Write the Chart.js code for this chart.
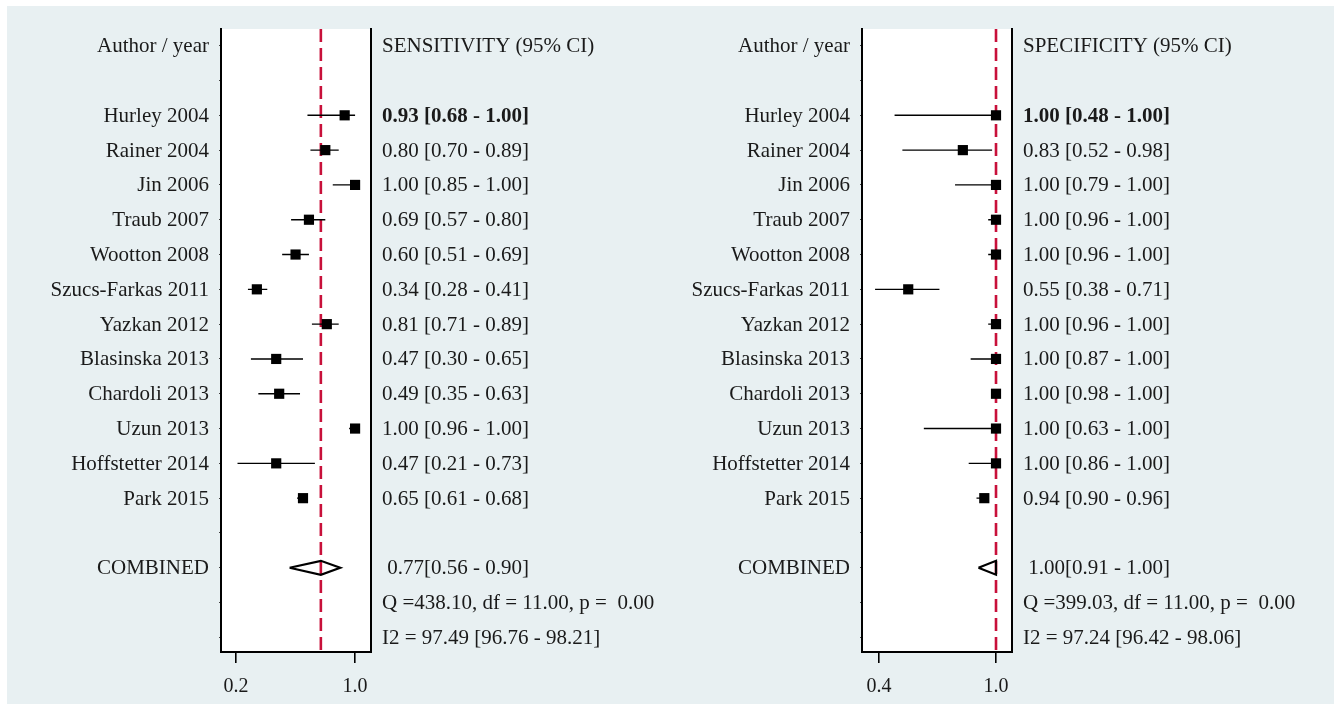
<!DOCTYPE html>
<html>
<head>
<meta charset="utf-8">
<script src="https://cdn.jsdelivr.net/npm/chart.js@4.4.1/dist/chart.umd.min.js"></script>
<style>
  html, body { margin: 0; padding: 0; background: #ffffff; }
  body { width: 1339px; height: 704px; position: relative; overflow: hidden; }
  #panel { position: absolute; left: 7px; top: 6px; width: 1327px; height: 698px; background: #e8f0f2; }
  canvas { position: absolute; top: 0; }
  #c1 { left: 0; }
  #c2 { left: 650px; }
</style>
</head>
<body>
<div id="panel"></div>
<canvas id="c1" width="690" height="704"></canvas>
<canvas id="c2" width="689" height="704"></canvas>
<script>
// Studies, top to bottom
const studies = ["Hurley 2004", "Rainer 2004", "Jin 2006", "Traub 2007", "Wootton 2008",
  "Szucs-Farkas 2011", "Yazkan 2012", "Blasinska 2013", "Chardoli 2013", "Uzun 2013",
  "Hoffstetter 2014", "Park 2015"];

// Sensitivity per study: estimate, lower and upper 95% CI
const sensEst = [0.93, 0.80, 1.00, 0.69, 0.60, 0.34, 0.81, 0.47, 0.49, 1.00, 0.47, 0.65];
const sensLo  = [0.68, 0.70, 0.85, 0.57, 0.51, 0.28, 0.71, 0.30, 0.35, 0.96, 0.21, 0.61];
const sensHi  = [1.00, 0.89, 1.00, 0.80, 0.69, 0.41, 0.89, 0.65, 0.63, 1.00, 0.73, 0.68];
const sensPooled = [0.77, 0.56, 0.90];
const sensStats = ["Q =438.10, df = 11.00, p =  0.00", "I2 = 97.49 [96.76 - 98.21]"];

// Specificity per study: estimate, lower and upper 95% CI
const specEst = [1.00, 0.83, 1.00, 1.00, 1.00, 0.55, 1.00, 1.00, 1.00, 1.00, 1.00, 0.94];
const specLo  = [0.48, 0.52, 0.79, 0.96, 0.96, 0.38, 0.96, 0.87, 0.98, 0.63, 0.86, 0.90];
const specHi  = [1.00, 0.98, 1.00, 1.00, 1.00, 0.71, 1.00, 1.00, 1.00, 1.00, 1.00, 0.96];
const specPooled = [1.00, 0.91, 1.00];
const specStats = ["Q =399.03, df = 11.00, p =  0.00", "I2 = 97.24 [96.42 - 98.06]"];

// Axis tick values
const sensTicks = [0.2, 1.0];
const specTicks = [0.4, 1.0];

const FONT = "'Liberation Serif', 'Times New Roman', serif";
const FONT_SIZE = 21;
const TEXT = "#1a1a1a";
const FIRST_ROW = 2;          // rows 0 = header, 1 = blank
const POOLED_ROW = FIRST_ROW + studies.length + 1;
const Y_MIN = -0.48, Y_PAD = 0.42;

function rowLabels(header, cells, pooled, stats) {
  const labels = [header, ""];
  cells.forEach(c => labels.push(c));
  labels.push("");
  labels.push(pooled);
  stats.forEach(s => labels.push(s));
  return labels;
}
const fmt = v => v.toFixed(2);

function buildChart(id, opt) {
  const leftLabels = rowLabels("Author / year", studies, "COMBINED", ["", ""]);
  const rightLabels = rowLabels(opt.header,
    opt.est.map((e, i) => fmt(e) + " [" + fmt(opt.lo[i]) + " - " + fmt(opt.hi[i]) + "]"),
    " " + fmt(opt.pooled[0]) + "[" + fmt(opt.pooled[1]) + " - " + fmt(opt.pooled[2]) + "]",
    opt.stats);
  const nRows = leftLabels.length;

  const points = opt.est.map((e, i) => ({ x: e, y: FIRST_ROW + i }));
  const ciSegments = [];
  opt.lo.forEach((lo, i) => {
    ciSegments.push({ x: lo, y: FIRST_ROW + i });
    ciSegments.push({ x: opt.hi[i], y: FIRST_ROW + i });
    ciSegments.push({ x: NaN, y: NaN });
  });
  const h = 0.2;
  const [pe, pl, ph] = opt.pooled;
  const diamond = [
    { x: pl, y: POOLED_ROW }, { x: pe, y: POOLED_ROW - h },
    { x: ph, y: POOLED_ROW }, { x: pe, y: POOLED_ROW + h }, { x: pl, y: POOLED_ROW }
  ];

  const refLine = {
    id: 'refLine',
    beforeDatasetsDraw(chart) {
      const { ctx, chartArea: a, scales: { x } } = chart;
      const px = x.getPixelForValue(pe);
      ctx.save();
      ctx.strokeStyle = '#c8103a';
      ctx.lineWidth = 2.6;
      ctx.setLineDash([13, 6]);
      ctx.beginPath();
      ctx.moveTo(px, a.top);
      ctx.lineTo(px, a.bottom);
      ctx.stroke();
      ctx.restore();
    }
  };
  const plotFill = {
    id: 'plotFill',
    beforeDraw(chart) {
      const { ctx, chartArea: a } = chart;
      ctx.save();
      ctx.fillStyle = '#ffffff';
      ctx.fillRect(a.left, a.top, a.right - a.left, a.bottom - a.top);
      ctx.restore();
    }
  };

  new Chart(document.getElementById(id), {
    type: 'scatter',
    data: {
      datasets: [
        { type: 'line', data: ciSegments, borderColor: '#000', borderWidth: 1.4,
          pointRadius: 0, spanGaps: false, order: 3 },
        { type: 'line', data: diamond, borderColor: '#000', borderWidth: 2.2,
          backgroundColor: '#fff', fill: false, pointRadius: 0, tension: 0, order: 2 },
        { data: points, pointStyle: 'rect', pointRadius: 7.2, backgroundColor: '#000',
          borderColor: '#000', borderWidth: 0, order: 1 }
      ]
    },
    options: {
      responsive: false,
      animation: false,
      devicePixelRatio: 1,
      events: [],
      layout: { padding: { left: 0, right: 0, top: 29, bottom: 0 } },
      plugins: { legend: { display: false }, tooltip: { enabled: false } },
      scales: {
        x: {
          type: 'linear', position: 'bottom', min: opt.xmin, max: opt.xmax,
          afterBuildTicks: s => { s.ticks = opt.ticks.map(v => ({ value: v })); },
          afterFit: s => { s.height = 52; },
          grid: { display: true, drawOnChartArea: false, drawTicks: true, tickLength: 11,
                  tickColor: '#000', lineWidth: 1.6 },
          border: { display: true, color: '#000', width: 2 },
          ticks: { color: TEXT, font: { family: FONT, size: 20 }, padding: 12,
                   maxRotation: 0, callback: v => Number(v).toFixed(1) }
        },
        y: {
          type: 'linear', position: 'left', reverse: true, min: Y_MIN, max: nRows - 1 + Y_PAD,
          afterBuildTicks: s => { s.ticks = leftLabels.map((_, i) => ({ value: i })); },
          afterFit: s => { s.width = opt.leftW; },
          grid: { display: true, drawOnChartArea: false, drawTicks: true, tickLength: 2,
                  tickColor: '#444', lineWidth: 1 },
          border: { display: true, color: '#000', width: 2 },
          ticks: { color: TEXT, font: { family: FONT, size: FONT_SIZE }, padding: 10,
                   labelOffset: 1, callback: (v, i) => leftLabels[i] }
        },
        y2: {
          type: 'linear', position: 'right', reverse: true, min: Y_MIN, max: nRows - 1 + Y_PAD,
          afterBuildTicks: s => { s.ticks = rightLabels.map((_, i) => ({ value: i })); },
          afterFit: s => { s.width = opt.rightW; },
          grid: { display: false, drawTicks: false },
          border: { display: true, color: '#000', width: 2 },
          ticks: { color: TEXT, padding: 11, labelOffset: 1,
                   font: c => ({ family: FONT, size: FONT_SIZE, weight: c.index === FIRST_ROW ? 'bold' : 'normal' }),
                   callback: (v, i) => rightLabels[i] }
        }
      }
    },
    plugins: [plotFill, refLine]
  });
}

buildChart('c1', {
  header: "SENSITIVITY (95% CI)", est: sensEst, lo: sensLo, hi: sensHi,
  pooled: sensPooled, stats: sensStats, ticks: sensTicks,
  xmin: 0.099, xmax: 1.107, leftW: 221, rightW: 690 - 371
});
buildChart('c2', {
  header: "SPECIFICITY (95% CI)", est: specEst, lo: specLo, hi: specHi,
  pooled: specPooled, stats: specStats, ticks: specTicks,
  xmin: 0.313, xmax: 1.082, leftW: 212, rightW: 689 - 362
});
</script>
</body>
</html>
